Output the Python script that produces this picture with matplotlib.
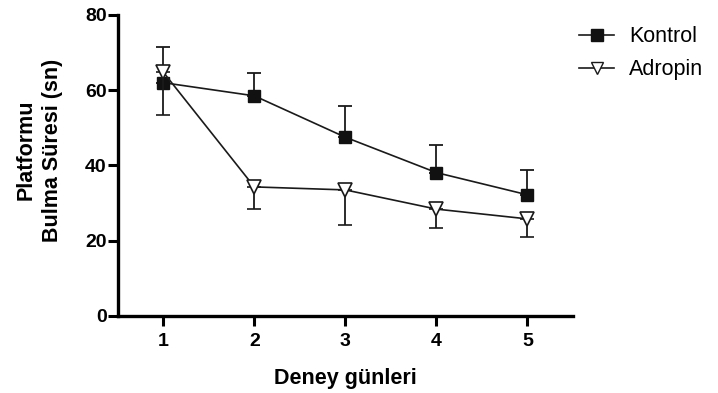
import matplotlib
matplotlib.use("Agg")
import matplotlib.pyplot as plt
from matplotlib.lines import Line2D

plt.rcParams['font.family'] = ['Liberation Sans', 'DejaVu Sans']

days = [1, 2, 3, 4, 5]
kontrol = [62.0, 58.5, 47.5, 38.1, 32.2]
kontrol_err = [9.5, 6.1, 8.3, 7.4, 6.5]
adropin = [64.8, 34.3, 33.5, 28.4, 25.8]
adropin_err = [11.3, 5.8, 9.2, 4.9, 4.7]
yticks = [0, 20, 40, 60, 80]

fig = plt.figure(figsize=(7.18, 3.93), dpi=100)
ax = fig.add_axes([0.164, 0.196, 0.634, 0.766])

ink = '#1a1a1a'
# Kontrol: filled squares, upper error bars only
ax.errorbar(days, kontrol, yerr=[[0]*5, kontrol_err], color=ink,
            marker='s', markersize=9, markerfacecolor='#111111',
            markeredgecolor='#111111', lw=1.2, elinewidth=1.3,
            capsize=5, capthick=1.3, zorder=3)
# Adropin: open down-triangles, lower error bars only
ax.errorbar(days, adropin, yerr=[adropin_err, [0]*5], color=ink,
            marker='v', markersize=9.5, markerfacecolor='white',
            markeredgecolor=ink, markeredgewidth=1.2, lw=1.2,
            elinewidth=1.3, capsize=5, capthick=1.3, zorder=4)

ax.set_xlim(0.5, 5.5)
ax.set_ylim(0, 80)
ax.set_xticks(days)
ax.set_yticks(yticks)
for s in ['top', 'right']:
    ax.spines[s].set_visible(False)
for s in ['left', 'bottom']:
    ax.spines[s].set_linewidth(2.4)
ax.tick_params(width=2.2, length=7, labelsize=14, direction='out')
ax.tick_params(axis='y', pad=1)
ax.tick_params(axis='x', pad=5)
for lab in ax.get_xticklabels() + ax.get_yticklabels():
    lab.set_fontweight('bold')

ax.set_xlabel('Deney günleri', fontsize=15.5, fontweight='bold',
              va='center')
ax.xaxis.set_label_coords(0.5, -0.207)
ax.set_ylabel('Platformu\nBulma Süresi (sn)', fontsize=15.5,
              fontweight='bold', va='center', ha='center',
              linespacing=1.3)
ax.yaxis.set_label_coords(-0.172, 0.551)

handles = [
    Line2D([0], [0], color=ink, lw=1.2, marker='s', markersize=8,
           markerfacecolor='#111111', markeredgecolor='#111111'),
    Line2D([0], [0], color=ink, lw=1.2, marker='v', markersize=8,
           markerfacecolor='white', markeredgecolor=ink),
]
fig.legend(handles, ['Kontrol', 'Adropin'], loc='upper left',
           bbox_to_anchor=(0.795, 0.955), frameon=False, fontsize=15.5,
           handlelength=1.6, labelspacing=0.55, handletextpad=0.7,
           borderaxespad=0)

fig.savefig('out.png', dpi=100)
